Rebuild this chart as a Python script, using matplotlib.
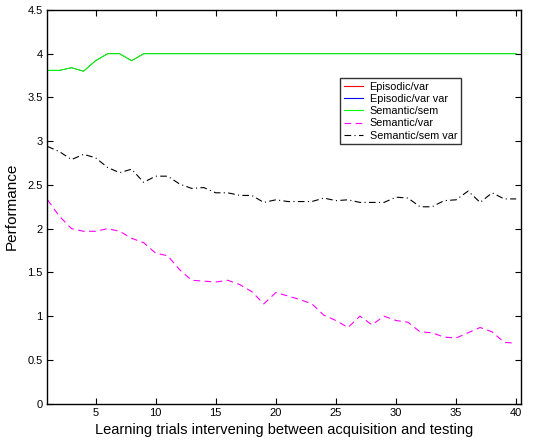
import numpy as np
import matplotlib
matplotlib.use('Agg')
import matplotlib.pyplot as plt

plt.rcParams['font.family'] = ['Liberation Sans', 'DejaVu Sans']

# trials 1..40
trials = list(range(1, 41))

semantic_sem = [3.81, 3.81, 3.84, 3.80, 3.92, 4.0, 4.0, 3.92, 4.0] + [4.0] * 31

# episodic curves are hidden underneath the green line in the original
episodic_var = list(semantic_sem)
episodic_var_var = list(semantic_sem)

semantic_var = [2.33, 2.14, 2.00, 1.97, 1.97, 2.00, 1.97, 1.89, 1.84, 1.72,
                1.69, 1.53, 1.41, 1.40, 1.39, 1.41, 1.36, 1.28, 1.14, 1.27,
                1.23, 1.19, 1.14, 1.01, 0.95, 0.87, 1.00, 0.90, 1.00, 0.95,
                0.93, 0.82, 0.81, 0.76, 0.75, 0.81, 0.87, 0.82, 0.70, 0.69]

semantic_sem_var = [2.94, 2.88, 2.79, 2.85, 2.81, 2.70, 2.64, 2.68, 2.53, 2.60,
                    2.60, 2.51, 2.46, 2.47, 2.41, 2.41, 2.38, 2.38, 2.30, 2.33,
                    2.31, 2.31, 2.31, 2.35, 2.32, 2.33, 2.30, 2.30, 2.30, 2.36,
                    2.35, 2.25, 2.25, 2.32, 2.33, 2.43, 2.30, 2.41, 2.34, 2.34]

labels = ['Episodic/var', 'Episodic/var var', 'Semantic/sem', 'Semantic/var', 'Semantic/sem var']

fig = plt.figure(figsize=(5.49, 4.44), dpi=100)
ax = fig.add_axes([0.0865, 0.091, 0.8625, 0.8865])

lw = 0.8
# thin episodic lines so the green one covers them fully
l1, = ax.plot(trials, episodic_var, color='red', lw=0.3)
l2, = ax.plot(trials, episodic_var_var, color='blue', lw=0.3)
l3, = ax.plot(trials, semantic_sem, color='#00ff00', lw=lw)
l4, = ax.plot(trials, semantic_var, color='magenta', lw=lw, ls=(0, (6, 4)))
l5, = ax.plot(trials, semantic_sem_var, color='black', lw=lw, ls=(0, (6, 3, 1, 3)))

ax.set_xlim(1, 40.4)
ax.set_ylim(0, 4.5)
ax.set_xticks([5, 10, 15, 20, 25, 30, 35, 40])
yt = np.arange(0, 4.51, 0.5)
ax.set_yticks(yt)
ax.set_yticklabels(['0', '0.5', '1', '1.5', '2', '2.5', '3', '3.5', '4', '4.5'])
ax.tick_params(direction='in', top=True, right=True, labelsize=8, length=4, width=0.8)
for s in ax.spines.values():
    s.set_linewidth(1.0)

ax.set_xlabel('Learning trials intervening between acquisition and testing', fontsize=10.5, labelpad=3)
ax.set_ylabel('Performance', fontsize=11, labelpad=6)

# legend handles with normal width
from matplotlib.lines import Line2D
handles = [Line2D([], [], color='red', lw=lw),
           Line2D([], [], color='blue', lw=lw),
           Line2D([], [], color='#00ff00', lw=lw),
           Line2D([], [], color='magenta', lw=lw, ls=(0, (6, 4))),
           Line2D([], [], color='black', lw=lw, ls=(0, (6, 3, 1, 3)))]
leg = ax.legend(handles, labels, loc='upper left', bbox_to_anchor=(0.619, 0.824), bbox_transform=fig.transFigure,
                fontsize=7.8, frameon=True, fancybox=False, handlelength=1.8,
                borderpad=0.35, labelspacing=0.2, handletextpad=0.6, borderaxespad=0)
leg.get_frame().set_edgecolor('black')
leg.get_frame().set_linewidth(1.0)

fig.savefig('out.png', dpi=100)
